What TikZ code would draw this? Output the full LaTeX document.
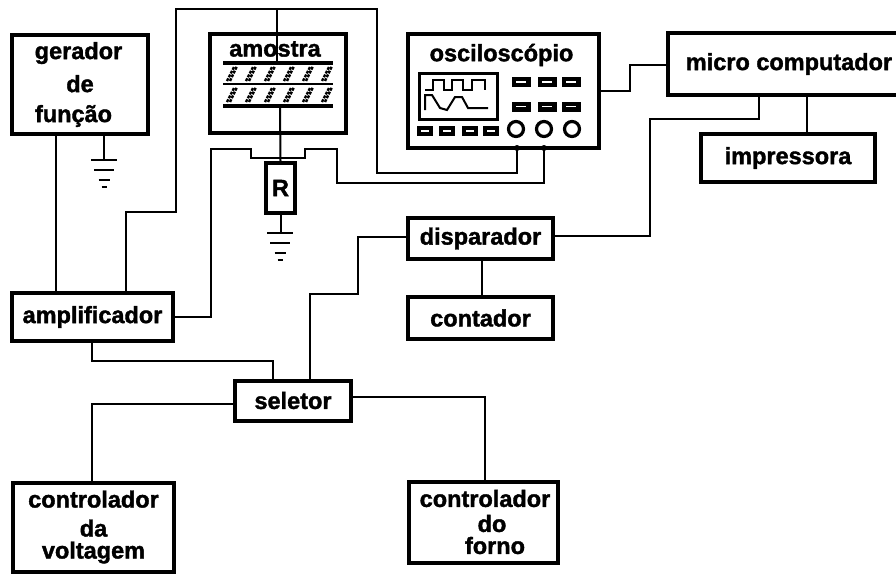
\documentclass[tikz,border=0pt]{standalone}
\usepackage{fontspec}
\setmainfont{Liberation Sans}[BoldFeatures={FakeBold=1.6}]
\usetikzlibrary{positioning}
\tikzset{
 blockfont/.style={font=\bfseries\fontsize{23.5}{26}\selectfont},
 blockbox/.style={draw,line width=4pt,inner sep=0pt,blockfont,align=center},
 wire/.style={line width=2pt},
 plate/.style={line width=3.5pt},
 groundbar/.style={line width=2.5pt},
 trace/.style={line width=2pt},
 squiggle/.style={line width=2.4pt,dash pattern=on 3pt off 1.2pt},
 knob/.style={draw,line width=3.2pt,circle,minimum size=15pt,inner sep=0pt},
 pad/.style={fill=black,minimum width=19pt,minimum height=10pt,inner sep=0pt},
}
\begin{document}
\begin{tikzpicture}[x=1pt,y=-1pt]
\useasboundingbox (0,0) rectangle (896,573);
%%%%%blocks
\node[blockbox,minimum width=136pt,minimum height=99pt] (gerador) at (80,84.5) {\raisebox{2pt}{gerador}\hspace*{3pt}\\[5pt]de\hspace*{3pt}\\[4pt]função\hspace*{13pt}};
\node[blockbox,minimum width=161pt,minimum height=48pt] (amplificador) at (92.5,317) {amplificador};
\node[blockbox,minimum width=136pt,minimum height=99pt] (amostra) at (278,83.5) {};
\node[blockbox,minimum width=191pt,minimum height=114pt] (osciloscopio) at (503.5,91) {};
\node[blockbox,minimum width=232pt,minimum height=62pt] (micro) at (784,64) {\hspace*{10pt}micro computador};
\node[blockbox,minimum width=174pt,minimum height=48pt] (impressora) at (788,158) {impressora};
\node[blockbox,minimum width=145pt,minimum height=41pt] (disparador) at (480.5,238.5) {disparador};
\node[blockbox,minimum width=145pt,minimum height=42pt] (contador) at (480.5,318) {contador};
\node[blockbox,minimum width=116pt,minimum height=40pt] (seletor) at (293,400.5) {seletor};
\node[blockbox,minimum width=161pt,minimum height=89pt] (voltagem) at (93.5,527) {controlador\\[3pt]da\\[-4pt]voltagem};
\node[blockbox,minimum width=149pt,minimum height=81pt] (forno) at (483,522) {\hspace*{4pt}controlador\\[-1pt]\hspace*{18pt}do\\[-4pt]\hspace*{24pt}forno};
\node[blockbox,minimum width=29pt,minimum height=50pt] (resistor) at (280.5,188) {R};
\node[blockfont,inner sep=0pt] (amostralabel) at (275,49) {amostra};
\node[blockfont,inner sep=0pt] (osclabel) at (501.5,55) {osciloscópio};
%%%%%named ends of the connectors
\coordinate (topa) at (277,9);
\coordinate (plate1) at (277,63);
\coordinate (plate3) at (280,106);
\coordinate (term1) at (517,148);
\coordinate (term2) at (544,148);
%%%%%connectors
\draw[wire] (gerador.south -| 56,0) -- (amplificador.north -| 56,0);
\draw[wire] (amplificador.north -| 126,0) |- (176,212) |- (377,9) |- (517,173) -- (term1);
\draw[wire] (topa) -- (plate1);
\draw[wire] (plate3) -- (resistor.north);
\draw[wire] (amplificador.east) -| (211,149) -| (251,158) -| (305,149) -| (337,183) -| (term2);
\draw[wire] (osciloscopio.east) -| (630,65) -- (micro.west |- 0,65);
\draw[wire] (micro.south -| 759,0) |- (650,119) |- (disparador.east |- 0,236);
\draw[wire] (micro.south -| 807,0) -- (impressora.north -| 807,0);
\draw[wire] (disparador.south -| 482,0) -- (contador.north -| 482,0);
\draw[wire] (disparador.west |- 0,237) -| (358,294) -| (seletor.north -| 310,0);
\draw[wire] (amplificador.south -| 92,0) |- (273,361) -- (seletor.north -| 273,0);
\draw[wire] (seletor.west |- 0,404) -| (voltagem.north -| 92,0);
\draw[wire] (seletor.east |- 0,397) -| (forno.north -| 485,0);
\fill (term1) circle (3pt);
\fill (term2) circle (3pt);
%%%%%grounds
\draw[wire] (gerador.south -| 104,0) -- (104,160);
\draw[wire] (resistor.south) -- (280.5,233);
\foreach \xg/\yg in {104/160,280/233}
{
 \draw[groundbar] (\xg-13,\yg) --+(26,0);
 \draw[groundbar] (\xg-10,\yg+10) --+(20,0);
 \draw[groundbar] (\xg-5.5,\yg+20) --+(11,0);
 \draw[groundbar] (\xg-2.5,\yg+27) --+(5,0);
}
%%%%%sample
\draw[plate] (223,63) -- (333,63);
\draw[line width=2.5pt] (223,84) -- (333,84);
\draw[line width=4pt] (223,106) -- (333,106);
\foreach \x in {0,...,5}
{
 \draw[squiggle] (\x*19+227,81) --+(7,-14);
 \draw[squiggle] (\x*19+230,81) --+(7,-15);
 \draw[squiggle] (\x*19+227,102) --+(7,-14);
 \draw[squiggle] (\x*19+230,102) --+(7,-15);
}
%%%%%oscilloscope
\draw[line width=3pt] (419,73) rectangle (497,119);
\draw[trace] (425,90) -- (433,90) -- (433,80) -- (444,80) -- (444,90) -- (452,90) -- (452,80) -- (463,80) -- (463,90) -- (472,90) -- (472,80) -- (485,80) -- (485,90);
\draw[trace] (425,110) -- (425,95) -- (432,95) -- (440,108) -- (447,110) -- (455,97) -- (462,97) -- (468,108) -- (488,108);
\foreach \x in {521,547,571}
{
 \node[pad] (padtop\x) at (\x,82) {};
 \node[pad] (padmid\x) at (\x,106.5) {};
 \draw[white,line width=1.2pt] (padtop\x.center) ++(-5,0) --+(10,0);
 \draw[white,line width=1.2pt] (padmid\x.center) ++(-5,0) --+(10,0);
}
\foreach \x in {425,447,470,491}
{
 \node[pad,minimum width=16pt] (padlow\x) at (\x,131) {};
 \draw[white,line width=1.2pt] (padlow\x.center) ++(-4,0) --+(8,0);
}
\foreach \x in {516,544,572} \node[knob] (knob\x) at (\x,129) {};
\end{tikzpicture}
\end{document}
